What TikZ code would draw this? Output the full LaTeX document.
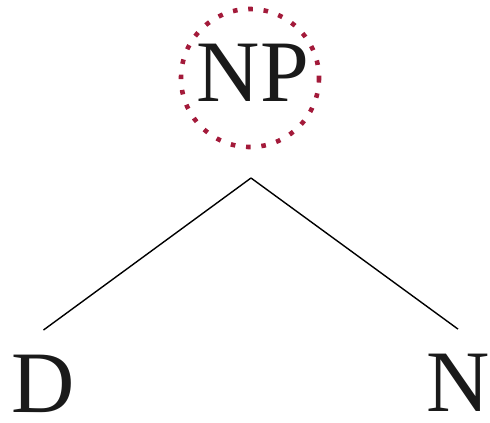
\documentclass[tikz,border=0pt]{standalone}
\usepackage{fontspec}
\setmainfont{Liberation Serif}
\usetikzlibrary{positioning}
\definecolor{ringred}{HTML}{A31A3A}
\definecolor{textprimary}{HTML}{1A1A1A}

\begin{document}
\begin{tikzpicture}[x=1bp,y=-1bp,
    cat/.style={text=textprimary,font=\fontsize{88}{90}\selectfont,inner sep=0pt},
    branch/.style={black,line width=1.4bp},
    ring/.style={ringred,line width=4.6bp,dash pattern=on 4.6bp off 10.8bp}]
    \useasboundingbox (0,0) rectangle (490,422);

    % phrase node with dotted ring
    \node[cat] (np) at (253,72.5) {NP};
    \draw[ring] (250,78) circle (69);

    % daughters
    \node[cat] (d) at (43.5,384) {D};
    \node[cat] (n) at (458,383) {N};

    % branches
    \coordinate (top) at (251,178);
    \draw[branch] (top) -- ([yshift=25bp]d.north);
    \draw[branch] (top) -- ([yshift=25bp]n.north);
\end{tikzpicture}
\end{document}
